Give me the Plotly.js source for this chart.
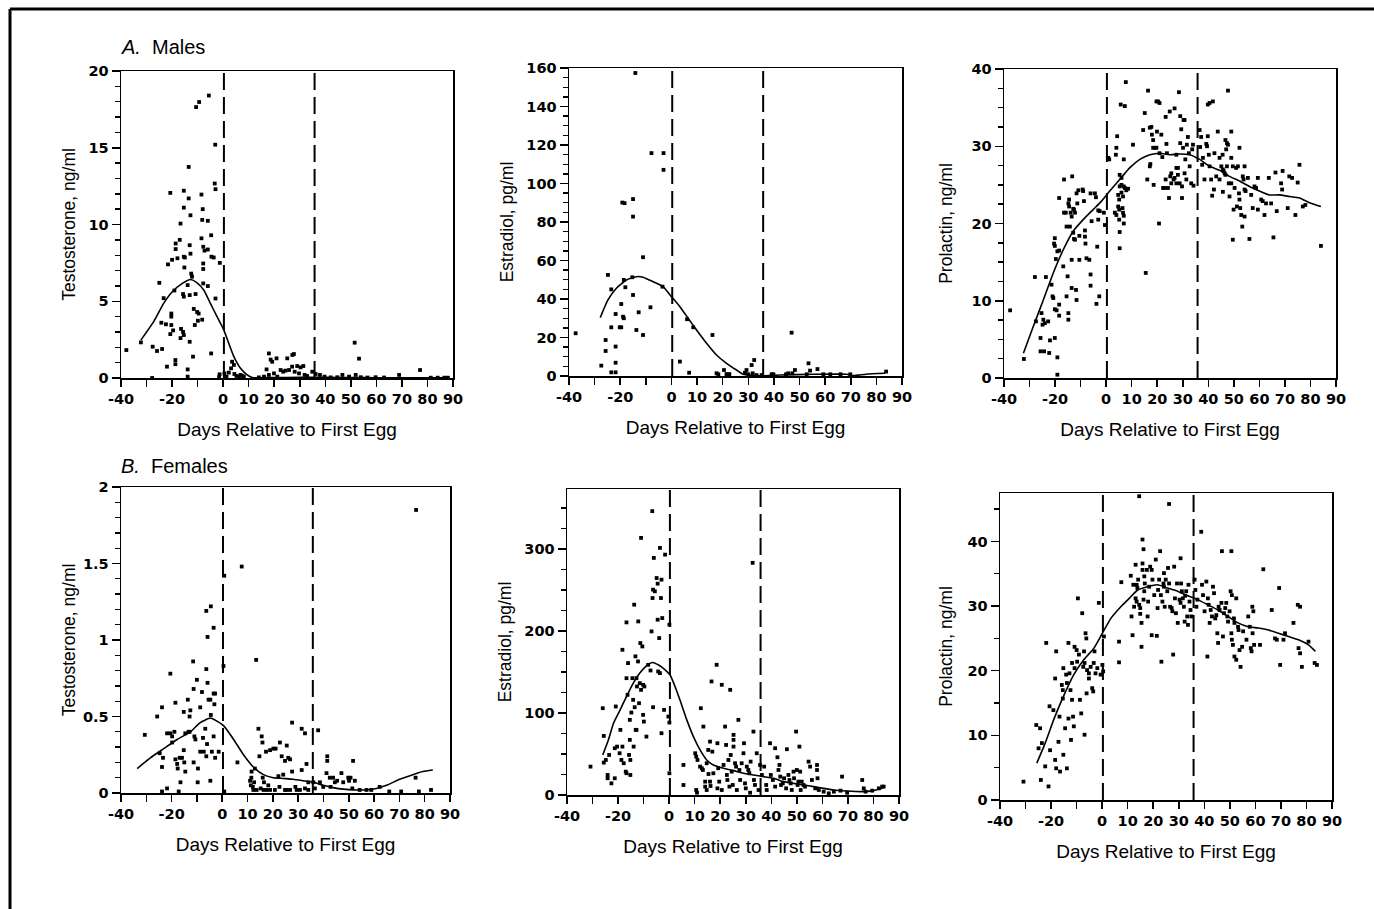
<!DOCTYPE html>
<html><head><meta charset="utf-8">
<script src="https://cdn.plot.ly/plotly-3.0.1.min.js"></script>
<style>html,body{margin:0;padding:0;background:#fff}#chart{width:1374px;height:909px}</style>
</head><body><div id="chart"></div>
<script>
// ---------- DATA ----------
const dayTickVals = [-40,-30,-20,-10,0,10,20,30,40,50,60,70,80,90];
const dayTickText = ['-40','','-20','','0','10','20','30','40','50','60','70','80','90'];
const markerLines = [0.3, 35.8]; // days: first egg, hatching (dashed lines)

const maleT_pts = [[-37.9,1.82],[-32.2,2.32],[-27.8,0.0],[-27.6,2.04],[-25.9,1.76],[-23.9,1.89],[-25,6.2],[-23.3,5.2],[-24.2,3.6],[-22.4,3.5],[-22,0.74],[-21.6,7.4],[-20.7,12.06],[-20.3,3.45],[-20,7.7],[-20.3,4.2],[-20.3,4.0],[-20.7,2.86],[-19.6,3.1],[-18.7,1.17],[-18.7,0.9],[-19.1,5.7],[-18.6,8.76],[-18.6,8.4],[-17.9,7.8],[-17,9.0],[-16.7,10.06],[-16.5,3.2],[-16.7,2.6],[-15.7,3.0],[-15.4,2.8],[-15.4,12.2],[-15.4,11.1],[-15.4,7.9],[-15.0,7.85],[-15.7,5.47],[-15.4,5.3],[-15.2,7.2],[-13.9,0.56],[-13.9,0.09],[-13.5,13.75],[-13.5,11.7],[-13.9,6.05],[-13.1,2.36],[-13.1,5.4],[-12.8,10.6],[-13.1,8.65],[-12.8,8.1],[-12.5,6.8],[-12.2,6.6],[-11.8,1.39],[-11.5,4.5],[-11.1,3.45],[-10.8,5.47],[-10.6,17.65],[-9.4,17.98],[-10.2,4.3],[-9.6,4.2],[-9.9,3.73],[-8.5,11.95],[-8.2,10.3],[-8.5,9.1],[-8.0,11.0],[-7.8,7.46],[-7.8,7.1],[-7.8,6.16],[-8.2,3.8],[-7.8,8.55],[-7.3,8.3],[-6.0,10.24],[-6.0,8.37],[-6.0,5.99],[-5.6,18.4],[-4.7,9.3],[-4.6,7.9],[-3.7,7.85],[-4.7,1.6],[-3.0,12.3],[-3.3,12.67],[-3.1,15.2],[-3.0,5.18],[-1.3,7.5],[-1.4,0.24],[-1.6,0.05],[0.5,0.3],[1.3,0.09],[2.2,0.35],[3.1,0.63],[3.5,1.06],[4.2,0.85],[4.4,0.26],[5.2,0.13],[6.1,0.09],[6.8,0.2],[7.4,0.13],[8.1,0.1],[14,0.04],[16,0.09],[17.9,1.6],[18.6,1.2],[19.2,1.06],[20.9,1.28],[17,0.56],[17.9,0.2],[19.9,0.3],[21.2,0.09],[22.5,0.52],[23.5,0.41],[24.4,0.48],[25.8,0.52],[25.1,1.28],[27.1,1.5],[27.7,1.56],[27,0.74],[29,0.78],[30.3,0.69],[31.4,0.78],[28,0.41],[29.7,0.3],[31.9,0.2],[32.9,0.13],[34.9,0.41],[36.2,0.26],[37.9,0.2],[39.7,0.09],[42.1,0.04],[44.7,0.05],[46.7,0.2],[49.3,0.09],[51.5,2.3],[53.2,1.26],[51.9,0.2],[53.9,0.05],[56.5,0.03],[59.7,0.05],[63,0.03],[68.9,0.2],[77.1,0.52],[81.3,0.02],[84,0.02],[86.6,0.02],[88,0.02]];
const maleT_fit = [[-32.2,2.47],[-27.2,3.67],[-23.3,4.86],[-20,5.6],[-16,6.16],[-12.8,6.42],[-10.2,6.2],[-7.6,5.73],[-5,4.86],[-2.4,4.0],[0,3.23],[2.2,2.26],[4.2,1.39],[6.8,0.63],[9.4,0.2],[11.4,0.03],[20,0.03],[30,0.04],[40,0.04],[50,0.03],[60,0.02],[70,0.02],[80,0.02],[88,0.02]];

const maleE2_pts = [[-37.4,22.2],[-27.4,5.4],[-24.8,52.5],[-23.5,45],[-23.5,25.3],[-25.7,18.7],[-25.7,13],[-23.5,1.9],[-21.8,1.9],[-21.8,32.2],[-21.8,15.3],[-21.8,6.9],[-20.2,25.3],[-19.6,25.3],[-19.6,37.4],[-19.2,90.1],[-18.3,89.8],[-18.6,49.9],[-18.9,30.8],[-18.6,30],[-18,46.1],[-15,91.9],[-15,82.8],[-15.3,51.3],[-15,42.1],[-14.1,157.4],[-13.7,23.9],[-12.8,33.1],[-11.1,61.7],[-11.1,21.3],[-8.2,35.7],[-7.8,115.8],[-3.1,115.8],[-3.1,107.1],[-3.5,46.4],[3.3,7.5],[6.9,1.7],[6.1,29.5],[8.5,25.3],[16,21.3],[17.6,1.4],[18.3,0.9],[20.5,3.1],[21.5,1],[22.6,1],[28.7,1.7],[29.3,3.1],[30,0.9],[31.3,5.7],[32.3,8.3],[31.7,1.4],[33.2,0.5],[35.2,0.5],[39.1,0.9],[39.8,0.9],[44.7,0.9],[45.6,1.4],[46.9,22.5],[48.2,3.1],[47.2,1.4],[53.5,6.6],[54.1,2.8],[57,3.6],[52.8,0.9],[59.3,0.9],[62,0.9],[66,0.9],[69.8,0.9],[83.8,2.3]];
const maleE2_fit = [[-27.8,30.3],[-24.8,39.5],[-21.5,45.6],[-17.6,49.9],[-13.7,51.6],[-11.1,51.3],[-7.2,49],[-3.3,46.4],[0,41.2],[3.3,36],[6.5,30],[9.8,23.9],[13.7,17],[17.6,10.9],[21.5,6.6],[25.4,3.1],[28,0.9],[31,0.4],[35.9,0.1],[42.4,0.5],[55.4,0.9],[68.4,0.9],[71,0.2],[76,0.9],[83.4,1.4]];

const maleP_pts = [[-37.6,8.76],[-32.2,2.46],[-27.9,13.07],[-27.5,7.33],[-25.7,5.18],[-25.7,3.45],[-24.3,3.45],[-25.3,8.4],[-24.9,6.9],[-24.6,7.55],[-24,7.1],[-23.6,13.07],[-22.7,7.33],[-22.3,3.24],[-22,4.87],[-21.4,12.08],[-21,10.57],[-20.7,10.35],[-20.1,5.18],[-20.4,17.4],[-20.1,17.1],[-20.1,18.1],[-19.7,15.4],[-19.1,16.4],[-20.1,8.9],[-19.4,8.76],[-19.1,2.67],[-19.1,0.43],[-18.4,23.3],[-18.4,16.5],[-18.4,9.5],[-18.4,8.07],[-16.8,14.45],[-16.5,25.7],[-16.5,21.4],[-15.8,21.4],[-15.5,19.6],[-15.5,10.57],[-15.1,13.16],[-14.8,8.4],[-14.8,7.55],[-14.8,22.6],[-14.5,23.1],[-14.5,22.2],[-13.9,21.4],[-13.5,20.9],[-14.2,19.6],[-13.5,11.65],[-13.5,15.3],[-13.3,26.1],[-12.9,21.9],[-12.6,21.8],[-12.9,18.8],[-12.6,18],[-12.2,21.4],[-12.2,17.9],[-11.8,11.4],[-11.6,10.1],[-11.6,23.9],[-11.3,22.6],[-10.9,24.3],[-10.5,18.4],[-10.5,15.3],[-9.2,24.4],[-9,24.2],[-8.7,22.9],[-8.3,18.3],[-8.1,17.4],[-8.3,19.1],[-7.7,15.5],[-6.6,15.3],[-6.1,23.9],[-6.1,13.4],[-6.1,11.95],[-5.7,20.3],[-4.4,23.9],[-4,23.4],[-3.8,9.6],[-3.5,17],[-3.1,21.7],[-2.5,21.6],[-2.7,10.57],[-3.1,20.5],[-0.5,19.8],[-0.9,21.4],
[0.8,28.5],[1.2,28.3],[3.4,21.4],[4,21.1],[4,29.8],[4.3,31.3],[3.8,28.9],[4.7,23.7],[5.1,23.1],[4.7,22.2],[5.1,21.8],[5.1,20.5],[5.3,18.9],[5.3,16.8],[5.3,26.3],[5.3,24.8],[6,25],[5.7,35.4],[6,25.9],[6,24],[6.6,23.5],[6.4,22],[6.6,21.4],[6.9,21],[6.9,28.3],[7.3,35.2],[6.9,24.8],[7.3,24.6],[7.7,38.3],[6.9,20],[7.9,24.3],[8.6,24.5],[10.5,30.2],[14.5,32.1],[15.1,34.3],[15.5,13.6],[16.4,37.2],[16.1,25.7],[17.1,27.4],[17.3,27.7],[17.1,32.4],[17.7,32.5],[17.9,31.5],[18.4,30.8],[18.4,29.8],[19,29.8],[18.6,25],[19.7,29.8],[19.7,35.8],[20.3,35.8],[19.9,31.9],[20.7,20],[20.9,35.6],[20.9,29.1],[21.6,31.5],[22,28.6],[22.3,24.6],[22.9,24.6],[23.3,33.8],[23.3,25.7],[23.6,30.3],[23.8,29.1],[24.2,24.6],[24.6,23.3],[24.9,34.5],[25.1,26.1],[25.5,26.5],[25.5,25.2],[26.4,25.7],[26.8,34.9],[26.8,25.9],[27.5,27.2],[28.1,27.2],[27.5,28.9],[27.5,25.2],[28.1,26.3],[28.5,37],[28.8,25.2],[29,33.9],[29,30.4],[29.4,32.2],[29.7,24.8],[29.7,23.3],[30.1,29.8],[30.3,33.4],[30.7,33.4],[30.7,26.5],[31,28.3],[31.4,25.7],[31.6,30.2],[32,31.2],[32.4,29.1],[32.7,27.4],[33.3,25.2],[33.7,29.6],[34,30.2],[34.2,24.9],
[36.6,32.1],[36.8,29.9],[37.2,31.2],[37.6,27.6],[37.9,28.5],[38.5,25.7],[39.2,30.3],[39.5,30],[39.8,35.4],[40.5,35.6],[39.8,31.3],[40.2,28.9],[40.5,27.4],[41.1,25.7],[41.8,35.8],[41.5,23.6],[42.2,24.4],[42.4,29.1],[43.1,26.1],[43.7,31.9],[44.4,28.5],[44.4,25.7],[45.1,27.4],[45.7,27],[45.6,28.9],[45.7,24.1],[46,26.8],[46.4,26.5],[46.7,26.3],[46.7,30.8],[47,29.6],[47.3,30.4],[47.7,30.2],[47.7,37.2],[47.3,27.4],[48,25.2],[48.3,23.5],[49,28.5],[49,31.9],[49,25.2],[49.6,27.4],[49.6,17.9],[49.9,21.8],[50.3,24.6],[50.9,27.2],[51.2,22.2],[51.6,27.4],[52,23.9],[52.2,29.8],[52.2,23.1],[52.5,22],[52.9,21.1],[53.3,19.6],[53.5,26.1],[53.8,25.7],[54.2,27.4],[54.2,24.4],[54.6,24.2],[54.2,20.9],[55.5,25.9],[56.1,18],[56.8,23.7],[57.4,22],[58.1,24.8],[58.7,24.6],[59.4,25.9],[59.4,21.8],[60.7,23.1],[61.3,22.9],[62,21.1],[62.6,22.6],[63.7,25.9],[64.6,22.6],[65.5,18.2],[66.3,26.6],[66.8,21.6],[68.5,25.2],[68.9,24.4],[69.1,26.8],[71.1,22],[71.7,26.1],[72.8,25.9],[74.1,21.1],[75,25.3],[75.7,27.6],[77,22.2],[78,22.4],[84.1,17.1]];
const maleP_fit = [[-32.4,3.2],[-28.5,6.7],[-24.6,10.1],[-20.7,13.6],[-16.8,16.6],[-12.9,19],[-9,20.5],[-5.1,21.8],[-1.8,22.9],[1.4,24.2],[5.3,25.7],[9.2,27.2],[13.2,28.3],[17.1,28.9],[21.1,29.1],[25,28.9],[28.8,29],[32.7,28.9],[36.6,28.3],[40.5,27.4],[44.4,26.9],[48.3,26.1],[52.2,25.5],[56.1,24.8],[60,24.2],[63.9,23.7],[67.8,23.7],[71.7,23.5],[75.7,23.3],[79.6,22.7],[84.1,22.2]];

const femT_pts = [[-30.6,0.38],[-25.7,0.5],[-23.8,0.56],[-24.7,0.26],[-23.4,0.23],[-23.8,0.17],[-23.8,0.01],[-21.8,0.03],[-21.8,0.39],[-20.5,0.78],[-20.5,0.39],[-19.8,0.37],[-19.8,0.33],[-18.9,0.4],[-18.5,0.59],[-18.5,0.22],[-17.8,0.19],[-17.6,0.16],[-16.8,0.23],[-17.2,0.01],[-16.5,0.07],[-15.9,0.23],[-15.2,0.53],[-15.2,0.28],[-15,0.2],[-14.6,0.14],[-14.6,0.39],[-13.6,0.61],[-13.3,0.4],[-12.9,0.4],[-12.9,0.5],[-12.6,0.54],[-11.5,0.86],[-11.3,0.68],[-11,0.37],[-10.6,0.35],[-11.3,0.2],[-10,0.74],[-9.6,0.16],[-9.7,0.07],[-8.7,0.56],[-8.7,0.27],[-8,0.66],[-7.6,0.36],[-7.3,0.27],[-6.7,0.42],[-6.3,0.81],[-6.3,1.19],[-6.3,0.24],[-6,0.32],[-5.8,1.02],[-5.8,0.72],[-5.4,0.61],[-4.7,0.61],[-4.7,0.08],[-4.5,1.22],[-4.5,0.51],[-4.1,0.27],[-3.4,1.08],[-3.4,0.65],[-3.1,0.58],[-3.4,0.37],[-2.8,0.23],[-2.8,0.65],[-1.4,0.27],[0.8,1.42],[0.5,0.83],[0.8,0.01],[6,0.2],[7.7,1.48],[11,0.08],[11.3,0.05],[11.5,0.1],[11.6,0.14],[12.1,0.04],[12.3,0.02],[12.6,0.07],[12.9,0.16],[13.4,0.87],[13.6,0.02],[14.3,0.42],[14.7,0.24],[15.2,0.03],[15.6,0.37],[15.9,0.33],[16,0.1],[16.3,0.02],[17.6,0.02],[18.9,0.02],[16.5,0.07],[18.2,0.05],[17.3,0.27],[18.9,0.28],[20.2,0.29],[21.1,0.29],[20.8,0.02],[22.2,0.11],[22.6,0.04],[22.8,0.33],[23.5,0.24],[24.1,0.12],[24.8,0.21],[24.8,0.02],[25.5,0.02],[26.8,0.02],[25.5,0.31],[26.1,0.23],[26.8,0.22],[27.6,0.46],[27.6,0.14],[28.9,0.04],[29.4,0.02],[30.7,0.02],[31.4,0.15],[31.4,0.42],[32.7,0.39],[33.3,0.19],[32.7,0.03],[34,0.07],[34,0.02],[36,0.07],[36.6,0.03],[37.9,0.41],[38.6,0.07],[39.9,0.04],[41.2,0.13],[41.5,0.24],[41.5,0.21],[42.5,0.1],[42.8,0.04],[43.8,0.1],[44.5,0.07],[45.4,0.08],[47.1,0.13],[47.8,0.07],[49.8,0.1],[50.1,0.08],[50.7,0.1],[52.4,0.08],[51.7,0.21],[51.4,0.03],[54.3,0.02],[57,0.02],[58.9,0.02],[62.2,0.04],[66,0.01],[70.7,0.01],[77.7,0.01],[76.6,1.85],[76.4,0.1],[82.5,0.02]];
const femT_fit = [[-33.6,0.16],[-28.4,0.23],[-23.1,0.29],[-17.8,0.35],[-12.6,0.4],[-8.7,0.46],[-4.7,0.49],[-2.1,0.47],[0.5,0.44],[4.5,0.35],[8.4,0.25],[12.3,0.17],[16.3,0.12],[20.2,0.1],[24.1,0.095],[28,0.09],[32,0.08],[35.9,0.07],[39.9,0.05],[43.8,0.035],[47.8,0.025],[53,0.02],[57,0.02],[60.9,0.03],[64.9,0.05],[70.1,0.09],[75.3,0.12],[79.3,0.14],[83.2,0.15]];

const femE2_pts = [[-30.8,34.6],[-26,105.8],[-25.6,72],[-25.6,39.5],[-24.8,42.7],[-24.1,24.4],[-24.1,20.4],[-23.5,48.8],[-22.6,14.2],[-21.3,20.4],[-21.3,57],[-20.9,107.9],[-20.4,59],[-19.4,50.9],[-19.1,79.4],[-18.7,42.7],[-18.3,177],[-18.3,59],[-17.8,38.7],[-17,28.5],[-16.7,26.5],[-16.7,142.4],[-16.7,210.4],[-16.3,122.1],[-16.1,160.8],[-15.7,48.8],[-15.4,67.2],[-15.4,91.6],[-15.2,24.4],[-15.2,42.7],[-14.8,100.5],[-14.4,142.4],[-14.1,116],[-13.9,59],[-13.7,232],[-13.5,107],[-13.2,169],[-13.1,79.4],[-12.8,79.4],[-12.8,142.4],[-12.6,132.3],[-12.2,162.8],[-12.1,211.6],[-11.8,111.9],[-11.5,136.3],[-11,128.2],[-11.3,185.2],[-11,313.4],[-10.5,181.1],[-10.2,134.3],[-9.7,132.3],[-10.2,97.7],[-9.9,89.5],[-8.9,71.2],[-8.2,158.7],[-7.3,151.8],[-6.9,199.4],[-6.6,346],[-6.5,240.1],[-6.3,250.3],[-6.3,107],[-6,289],[-5.6,248.3],[-4.9,264.5],[-4.5,257.6],[-4.5,213.7],[-4.3,150.6],[-3.6,148.6],[-3.6,301.2],[-3.2,240.1],[-3,262.5],[-2.7,215.7],[-3.9,191.3],[-3,75.3],[-2,103.8],[-1.6,293],[-0.3,95.6],[0.1,207.6],[0.1,26.5],[0.1,88.3],[5.6,36.6],[5.6,12.2],[10.2,50.9],[10.6,46.8],[11.1,42.7],[10.6,6.1],[10.9,2.8],[12.4,105.8],[12.1,34.6],[12.8,32.6],[13.2,30.5],[13.4,83.4],[14.1,10.2],[14.7,6.1],[14.1,16.3],[14.7,38.7],[15.3,54.9],[16,65.1],[15.4,25.6],[16,16.3],[16.2,11],[16.6,138.4],[16.9,52.9],[17.3,26.5],[18.6,158.7],[18.9,63.1],[18.9,8.1],[19.2,32.6],[19.6,16.3],[20.6,134.3],[20.6,6.1],[21.3,36.6],[21.9,83.4],[22.3,61],[22.6,24.4],[22.8,18.3],[23.2,42.7],[23.6,10.2],[23.9,128.2],[24.1,48.8],[24.5,28.5],[24.9,12.2],[25.2,73.3],[25.2,67.2],[25.2,59],[25.8,38.7],[26.2,34.6],[26.5,6.1],[27.1,91.6],[27.5,30.5],[27.8,18.3],[28.4,38.7],[29.1,50.9],[29.3,63.1],[29.7,14.2],[30,8.1],[30.4,34.6],[31,30.5],[31.4,26.5],[31.7,2.8],[31.9,40.7],[32.7,283],[33,77.3],[33.2,18.3],[33.6,12.2],[34.3,50.9],[35,6.1],[35.6,36.6],[36.3,24.4],[37.2,34.6],[38,12.2],[38.2,6.1],[39.5,63.1],[39.8,24.4],[40.6,18.3],[41.5,57],[41.5,10.2],[42.4,46],[42.8,30.5],[43.2,36.6],[43.5,22.4],[43.8,12.2],[44.5,14.2],[45,20.4],[45.8,8.1],[46.1,55.8],[46.7,24.4],[47.1,18.3],[47.6,14.2],[48,6.1],[48.7,28.5],[48.9,20.4],[49.7,77.3],[50,30.5],[50.3,12.2],[50.6,16.3],[51,59],[51.3,28.5],[51.5,6.1],[51.9,16.3],[52.6,12.2],[53.2,10.2],[54.6,40.7],[55.2,34.6],[55.9,18.3],[57.2,8.1],[57.9,36.6],[57.9,30.5],[58.1,20.4],[58.6,6.1],[60.5,4.1],[62.5,2],[64.5,4.1],[67.7,22.4],[67.1,5.3],[69.7,2.8],[75.6,18.3],[76.2,8.1],[76.9,4.1],[79.5,5.3],[82.1,8.1],[83.4,10.2],[84,10.2]];
const femE2_fit = [[-26,48.8],[-23.8,67],[-21.8,87.5],[-19.2,103.8],[-16.7,120],[-14.1,136],[-11.5,148.6],[-8.9,157.5],[-6.5,161.6],[-4.3,158.7],[-1.6,152.6],[0.3,146.5],[2.3,132.3],[4.2,116],[6.9,91.6],[9.5,71.2],[12.1,54.9],[14.7,42.7],[17.3,36.6],[21.3,32.6],[25.2,29.7],[29.1,26.5],[33,24.4],[37,22.4],[40.9,20.4],[44.8,16.3],[48.8,14.2],[52.6,12.2],[56.6,10.2],[60.5,8.1],[64.5,6.1],[69.7,4.9],[74.9,4.1],[80.1,5.3],[83.4,8.1]];

const femP_pts = [[-30.8,2.84],[-25.8,11.6],[-24.9,8],[-24.3,11.1],[-24,3.1],[-23.6,8.8],[-22.3,5.2],[-21.9,24.3],[-21,2.1],[-20.6,14.5],[-20.4,7.7],[-19.1,13.9],[-18.4,18.8],[-18.4,6.2],[-18,4.9],[-18,23],[-17.1,9],[-16.7,12.9],[-16.5,4.4],[-15.8,17.8],[-15.4,17],[-15.4,15.7],[-15.2,20.4],[-15.2,7],[-14.5,11.1],[-14.1,19.4],[-13.8,18.1],[-13.8,4.9],[-13.2,24.3],[-13.2,12.6],[-12.8,19.6],[-12.4,17],[-12.2,9.3],[-11.8,21.2],[-11.8,15.5],[-11.4,12.9],[-11.1,11.4],[-10.8,23.7],[-10,23.2],[-10.8,20.4],[-9.8,21.4],[-9.5,31.2],[-9.1,22.5],[-8.7,15.5],[-8.2,13.4],[-7.8,28.9],[-7.4,20.6],[-6.9,21.2],[-7.1,23],[-6.9,10.1],[-6.5,25.8],[-6.2,25],[-6.1,16.5],[-5.9,20.1],[-5.2,19.6],[-5.2,18.8],[-4.5,20.6],[-3.9,17.3],[-3.5,16.8],[-3.3,21.2],[-3,23],[-2.6,19.6],[-1.9,20.4],[-1.3,30.5],[-0.6,19.4],[0.1,20.9],[0.4,19.9],[0.7,25.3],[6.6,24.5],[6.6,21.3],[7.5,33.7],[11.2,34.7],[11.5,28.4],[11.9,25.5],[12.2,33.3],[12.5,29.9],[13.1,31.2],[13.5,30.7],[13.1,36.4],[13.5,33.3],[13.8,32.8],[14.1,34.1],[14.5,47],[14.5,30.2],[14.9,29.7],[14.9,28.8],[15.4,23.7],[15.4,27.4],[15.8,40.3],[16.2,38.8],[15.8,36.6],[15.8,35.6],[16.5,34.6],[16.2,31],[16.5,32.3],[16.7,33.5],[17.5,35.6],[17.8,28.4],[18,30.7],[18.4,33],[18.8,36.1],[19.4,35.6],[19.4,25.5],[19.7,34.1],[20.4,31.7],[21,37.2],[21.4,25.4],[21.7,29.7],[21.9,32.5],[22.3,34.1],[22.7,38.5],[23,31.7],[23.2,21.4],[23.6,30.7],[24,33.5],[24.2,33],[24.2,35.1],[24.5,29.9],[24.9,34.1],[25.5,32.3],[25.8,35.9],[26.2,45.8],[26.2,33.5],[26.6,29.9],[27.2,29.7],[27.5,29.2],[27.8,22.5],[28.2,36.1],[28.5,31.2],[28.9,28.9],[29.3,33.5],[29.6,27.4],[30.3,31],[30.7,30.5],[30.7,37.4],[30.9,33.5],[31.2,32.3],[31.6,31.2],[32,29.9],[32.3,27.6],[32.5,31.6],[32.9,32.3],[33.3,28.4],[33.6,27.1],[33.8,33.3],[34.2,30.7],[34.6,29.4],[34.9,28.4],[36.2,34.1],[36.5,32.5],[36.9,29.9],[37.3,31],[38.8,41.5],[39.1,33.3],[39.5,31.7],[40.1,29.2],[40.8,33.8],[41.2,22.2],[41.4,31.2],[41.7,30.2],[42.1,27.4],[42.5,29.4],[43,28.4],[43.4,33],[43.8,32],[44.3,28.1],[44.7,28.6],[45.1,25.8],[45.4,24.3],[45.6,29.9],[46,29.4],[46.7,30.5],[46.9,38.5],[47.3,25.3],[47.7,28.9],[48.2,29.7],[48.6,30.5],[49,28.4],[49.3,27.6],[49.9,29.2],[50.3,32.3],[50.8,31.7],[50.6,38.5],[50.6,25.8],[50.8,24.8],[51.2,24],[51.6,28.1],[51.8,27.4],[51.8,22.2],[52.5,21.7],[52.5,31.2],[53.2,26.8],[53.4,26.3],[53.8,23.2],[54.2,20.6],[54.8,23.7],[55.2,26.1],[56.5,24.8],[57.2,28.4],[57.8,26.8],[58.2,23.5],[58.5,23],[58.8,29.9],[59.2,29.2],[58.9,25.8],[59.5,24],[61.8,24],[63.1,35.7],[66.4,29.4],[67.7,25],[68.4,24.8],[69.3,32.8],[69.7,20.9],[71,24.8],[71.6,25.8],[74.9,27.4],[76.6,30.2],[77.5,29.9],[76.9,23.5],[77.5,22.7],[78.2,20.6],[80.8,24.5],[83.2,21.2],[84.1,20.9]];
const femP_fit = [[-25.6,5.7],[-22.3,8.8],[-19,12.4],[-15.2,16],[-11.1,19.4],[-7.2,21.7],[-3.2,23.5],[0.1,25.8],[3.4,28.1],[7.3,29.9],[10.6,31.2],[13.9,32.5],[17.8,33],[21.7,33.3],[25.5,32.8],[29.5,32.3],[33.5,31.6],[37.4,31],[41.4,30.2],[45.3,29.4],[49.3,28.4],[53.2,27.4],[57.2,26.8],[61.1,26.6],[65.1,26.3],[69,25.8],[73,25.3],[76.9,24.8],[80.8,24],[83.5,23]];

// ---------- LAYOUT ----------
const W = 1374, H = 909;
const FONT = 'Liberation Sans, Arial, Helvetica, sans-serif';
const TICKFONT = {family: 'DejaVu Sans, Arial, sans-serif', size: 14.5, color: '#000', weight: 'bold'};

const panels = [
  {pts: maleT_pts, fit: maleT_fit, title: 'Testosterone, ng/ml', yr: [0,20], dt: 5, mdt: 1, box: [121,453,71,378], ysd: 8},
  {pts: maleE2_pts, fit: maleE2_fit, title: 'Estradiol, pg/ml', yr: [0,160], dt: 20, mdt: 5, box: [569,902,68,376], ysd: 8},
  {pts: maleP_pts, fit: maleP_fit, title: 'Prolactin, ng/ml', yr: [0,40], dt: 10, mdt: 2.5, box: [1004,1336,69,378], ysd: 14},
  {pts: femT_pts, fit: femT_fit, title: 'Testosterone, ng/ml', yr: [0,2], dt: 0.5, mdt: 0.1, box: [121,450,487,793], ysd: 3},
  {pts: femE2_pts, fit: femE2_fit, title: 'Estradiol, pg/ml', yr: [0,373], dt: 100, mdt: 25, box: [567,899,489,795], ysd: 8},
  {pts: femP_pts, fit: femP_fit, title: 'Prolactin, ng/ml', yr: [0,47.5], dt: 10, mdt: 5, box: [1000,1332,493,800], ysd: 10}
];

const data = [];
const layout = {
  width: W, height: H,
  margin: {l:0, r:0, t:0, b:0},
  paper_bgcolor: '#fff', plot_bgcolor: '#fff',
  showlegend: false,
  font: {family: FONT, color: '#000'},
  shapes: [], annotations: []
};

panels.forEach((p, i) => {
  const n = i === 0 ? '' : String(i + 1);
  const xa = 'x' + n, ya = 'y' + n;
  data.push({
    type: 'scatter', mode: 'markers', xaxis: xa, yaxis: ya,
    x: p.pts.map(d => d[0]), y: p.pts.map(d => d[1]),
    marker: {symbol: 'square', size: 3.8, color: '#000'},
    cliponaxis: false, hoverinfo: 'skip'
  });
  data.push({
    type: 'scatter', mode: 'lines', xaxis: xa, yaxis: ya,
    x: p.fit.map(d => d[0]), y: p.fit.map(d => d[1]),
    line: {color: '#000', width: 1.6, shape: 'spline', smoothing: 0.5},
    hoverinfo: 'skip'
  });
  const b = p.box;
  layout['xaxis' + n] = {
    domain: [b[0] / W, b[1] / W], anchor: ya,
    range: [-40, 90], tickmode: 'array', tickvals: dayTickVals, ticktext: dayTickText,
    ticks: 'outside', ticklen: 7, tickwidth: 1.5, tickcolor: '#000',
    showline: true, linecolor: '#000', linewidth: 1.5, mirror: true,
    showgrid: false, zeroline: false, tickfont: TICKFONT,
    title: {text: 'Days Relative to First Egg', font: {family: FONT, size: 19, color: '#000'}, standoff: 17}
  };
  layout['yaxis' + n] = {
    domain: [1 - b[3] / H, 1 - b[2] / H], anchor: xa,
    range: p.yr, dtick: p.dt, tick0: 0,
    ticks: 'outside', ticklen: 8, tickwidth: 1.5, tickcolor: '#000',
    minor: {dtick: p.mdt, tick0: 0, ticks: 'outside', ticklen: 5, tickwidth: 1.4, tickcolor: '#000', showgrid: false},
    showline: true, linecolor: '#000', linewidth: 1.5, mirror: true,
    showgrid: false, zeroline: false, tickfont: TICKFONT,
    title: {text: p.title, font: {family: FONT, size: 17.5, color: '#000'}, standoff: p.ysd}
  };
  markerLines.forEach(v => layout.shapes.push({
    type: 'line', xref: xa, yref: ya + ' domain', x0: v, x1: v, y0: 0, y1: 1,
    line: {color: '#000', width: 2, dash: '17px,7px'}
  }));
});

// figure frame (top and left edges)
layout.shapes.push({type: 'line', xref: 'paper', yref: 'paper', x0: 10 / W, x1: 1, y0: 1 - 9 / H, y1: 1 - 9 / H, line: {color: '#000', width: 3}});
layout.shapes.push({type: 'line', xref: 'paper', yref: 'paper', x0: 10 / W, x1: 10 / W, y0: 0, y1: 1 - 9 / H, line: {color: '#000', width: 3}});

// panel headings
layout.annotations.push({xref: 'paper', yref: 'paper', x: 119 / W, y: 1 - 47 / H, xanchor: 'left', yanchor: 'middle', showarrow: false,
  text: '<i>A.</i>\u00a0\u00a0Males', font: {family: FONT, size: 20, color: '#000'}});
layout.annotations.push({xref: 'paper', yref: 'paper', x: 119 / W, y: 1 - 466 / H, xanchor: 'left', yanchor: 'middle', showarrow: false,
  text: '<i>B.</i>\u00a0\u00a0Females', font: {family: FONT, size: 20, color: '#000'}});

Plotly.newPlot('chart', data, layout, {staticPlot: true, displayModeBar: false});
</script></body></html>
